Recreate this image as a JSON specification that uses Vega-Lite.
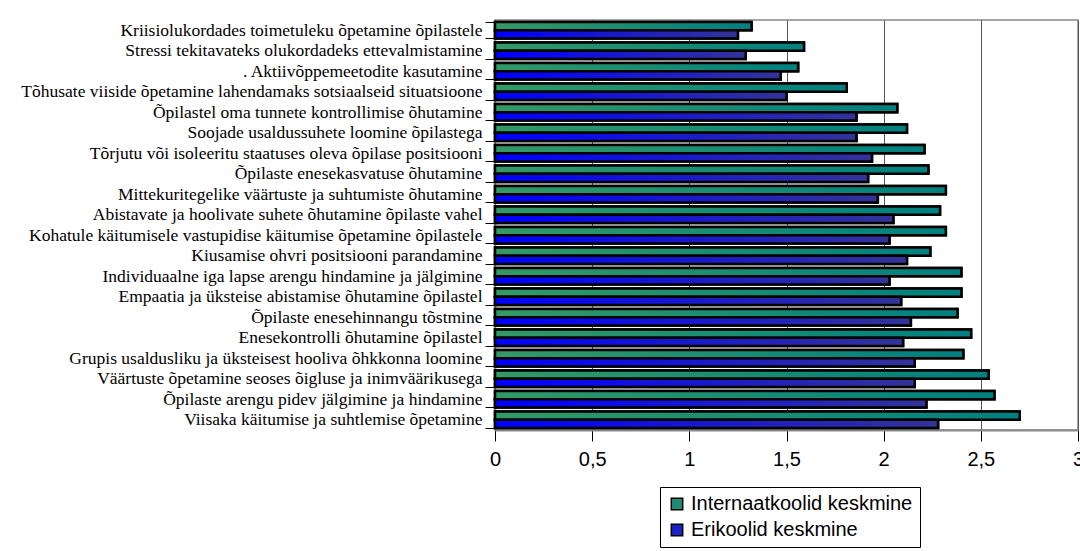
{
  "$schema": "https://vega.github.io/schema/vega-lite/v6.json",
  "width": 583,
  "height": 410,
  "autosize": {"type": "none"},
  "padding": {"left": 495, "top": 20, "right": 2, "bottom": 121},
  "background": "white",
  "config": {
    "view": {"stroke": "#888888", "strokeWidth": 1.5},
    "font": "Liberation Sans"
  },
  "data": {
    "values": [
      {"cat": "Kriisiolukordades toimetuleku õpetamine õpilastele", "series": "Internaatkoolid keskmine", "v": 1.32},
      {"cat": "Kriisiolukordades toimetuleku õpetamine õpilastele", "series": "Erikoolid keskmine", "v": 1.25},
      {"cat": "Stressi tekitavateks olukordadeks ettevalmistamine", "series": "Internaatkoolid keskmine", "v": 1.59},
      {"cat": "Stressi tekitavateks olukordadeks ettevalmistamine", "series": "Erikoolid keskmine", "v": 1.29},
      {"cat": ". Aktiivõppemeetodite kasutamine", "series": "Internaatkoolid keskmine", "v": 1.56},
      {"cat": ". Aktiivõppemeetodite kasutamine", "series": "Erikoolid keskmine", "v": 1.47},
      {"cat": "Tõhusate viiside õpetamine lahendamaks sotsiaalseid situatsioone", "series": "Internaatkoolid keskmine", "v": 1.81},
      {"cat": "Tõhusate viiside õpetamine lahendamaks sotsiaalseid situatsioone", "series": "Erikoolid keskmine", "v": 1.5},
      {"cat": "Õpilastel oma tunnete kontrollimise õhutamine", "series": "Internaatkoolid keskmine", "v": 2.07},
      {"cat": "Õpilastel oma tunnete kontrollimise õhutamine", "series": "Erikoolid keskmine", "v": 1.86},
      {"cat": "Soojade usaldussuhete loomine õpilastega", "series": "Internaatkoolid keskmine", "v": 2.12},
      {"cat": "Soojade usaldussuhete loomine õpilastega", "series": "Erikoolid keskmine", "v": 1.86},
      {"cat": "Tõrjutu või isoleeritu staatuses oleva õpilase positsiooni", "series": "Internaatkoolid keskmine", "v": 2.21},
      {"cat": "Tõrjutu või isoleeritu staatuses oleva õpilase positsiooni", "series": "Erikoolid keskmine", "v": 1.94},
      {"cat": "Õpilaste enesekasvatuse õhutamine", "series": "Internaatkoolid keskmine", "v": 2.23},
      {"cat": "Õpilaste enesekasvatuse õhutamine", "series": "Erikoolid keskmine", "v": 1.92},
      {"cat": "Mittekuritegelike väärtuste ja suhtumiste õhutamine", "series": "Internaatkoolid keskmine", "v": 2.32},
      {"cat": "Mittekuritegelike väärtuste ja suhtumiste õhutamine", "series": "Erikoolid keskmine", "v": 1.97},
      {"cat": "Abistavate ja hoolivate suhete õhutamine õpilaste vahel", "series": "Internaatkoolid keskmine", "v": 2.29},
      {"cat": "Abistavate ja hoolivate suhete õhutamine õpilaste vahel", "series": "Erikoolid keskmine", "v": 2.05},
      {"cat": "Kohatule käitumisele vastupidise käitumise õpetamine õpilastele", "series": "Internaatkoolid keskmine", "v": 2.32},
      {"cat": "Kohatule käitumisele vastupidise käitumise õpetamine õpilastele", "series": "Erikoolid keskmine", "v": 2.03},
      {"cat": "Kiusamise ohvri positsiooni parandamine", "series": "Internaatkoolid keskmine", "v": 2.24},
      {"cat": "Kiusamise ohvri positsiooni parandamine", "series": "Erikoolid keskmine", "v": 2.12},
      {"cat": "Individuaalne iga lapse arengu hindamine ja jälgimine", "series": "Internaatkoolid keskmine", "v": 2.4},
      {"cat": "Individuaalne iga lapse arengu hindamine ja jälgimine", "series": "Erikoolid keskmine", "v": 2.03},
      {"cat": "Empaatia ja üksteise abistamise õhutamine õpilastel", "series": "Internaatkoolid keskmine", "v": 2.4},
      {"cat": "Empaatia ja üksteise abistamise õhutamine õpilastel", "series": "Erikoolid keskmine", "v": 2.09},
      {"cat": "Õpilaste enesehinnangu tõstmine", "series": "Internaatkoolid keskmine", "v": 2.38},
      {"cat": "Õpilaste enesehinnangu tõstmine", "series": "Erikoolid keskmine", "v": 2.14},
      {"cat": "Enesekontrolli õhutamine õpilastel", "series": "Internaatkoolid keskmine", "v": 2.45},
      {"cat": "Enesekontrolli õhutamine õpilastel", "series": "Erikoolid keskmine", "v": 2.1},
      {"cat": "Grupis usaldusliku ja üksteisest hooliva õhkkonna loomine", "series": "Internaatkoolid keskmine", "v": 2.41},
      {"cat": "Grupis usaldusliku ja üksteisest hooliva õhkkonna loomine", "series": "Erikoolid keskmine", "v": 2.16},
      {"cat": "Väärtuste õpetamine seoses õigluse ja inimväärikusega", "series": "Internaatkoolid keskmine", "v": 2.54},
      {"cat": "Väärtuste õpetamine seoses õigluse ja inimväärikusega", "series": "Erikoolid keskmine", "v": 2.16},
      {"cat": "Õpilaste arengu pidev jälgimine ja hindamine", "series": "Internaatkoolid keskmine", "v": 2.57},
      {"cat": "Õpilaste arengu pidev jälgimine ja hindamine", "series": "Erikoolid keskmine", "v": 2.22},
      {"cat": "Viisaka käitumise ja suhtlemise õpetamine", "series": "Internaatkoolid keskmine", "v": 2.7},
      {"cat": "Viisaka käitumise ja suhtlemise õpetamine", "series": "Erikoolid keskmine", "v": 2.28}
    ]
  },
  "encoding": {
    "y": {
      "field": "cat",
      "type": "nominal",
      "sort": null,
      "title": null,
      "scale": {"paddingInner": 0.2, "paddingOuter": 0.1},
      "axis": {
        "labelFont": "Liberation Serif",
        "labelFontSize": 17.5,
        "labelColor": "black",
        "labelLimit": 500,
        "labelPadding": 3,
        "tickBand": "extent",
        "tickSize": 10,
        "tickColor": "black",
        "domainColor": "#888888",
        "domainWidth": 1.5
      }
    },
    "yOffset": {
      "field": "series",
      "type": "nominal",
      "scale": {"domain": ["Internaatkoolid keskmine", "Erikoolid keskmine"], "paddingInner": 0}
    },
    "x": {
      "field": "v",
      "type": "quantitative",
      "title": null,
      "scale": {"domain": [0, 3], "nice": false},
      "axis": {
        "values": [0, 0.5, 1, 1.5, 2, 2.5, 3],
        "labelExpr": "replace(format(datum.value, '~g'), '.', ',')",
        "labelFont": "Liberation Sans",
        "labelFontSize": 20,
        "labelColor": "black",
        "labelPadding": 8,
        "tickSize": 11,
        "tickColor": "black",
        "domainColor": "#888888",
        "domainWidth": 2,
        "grid": true,
        "gridColor": "#555555",
        "gridWidth": 1,
        "labelFlush": false
      }
    }
  },
  "layer": [
    {
      "mark": {"type": "bar", "stroke": "black", "strokeWidth": 2.5},
      "encoding": {
        "color": {
          "field": "series",
          "type": "nominal",
          "scale": {"domain": ["Internaatkoolid keskmine", "Erikoolid keskmine"], "range": ["#1d8a74", "#2020c8"]},
          "legend": {
            "title": null,
            "orient": "none",
            "legendX": 165,
            "legendY": 467,
            "direction": "vertical",
            "symbolType": "square",
            "symbolSize": 130,
            "symbolStrokeColor": "black",
            "symbolStrokeWidth": 1.5,
            "symbolOpacity": 1,
            "labelFont": "Liberation Sans",
            "labelFontSize": 20,
            "labelColor": "black",
            "labelOffset": 4,
            "labelLimit": 400,
            "rowPadding": 6,
            "padding": 7,
            "strokeColor": "black",
            "fillColor": "white"
          }
        }
      }
    },
    {
      "transform": [{"filter": "datum.series === 'Internaatkoolid keskmine'"}],
      "mark": {
        "type": "bar",
        "stroke": "black",
        "strokeWidth": 2.5,
        "color": {"gradient": "linear", "x1": 0, "y1": 0, "x2": 1, "y2": 0, "stops": [{"offset": 0, "color": "#339966"}, {"offset": 1, "color": "#008080"}]}
      }
    },
    {
      "transform": [{"filter": "datum.series === 'Erikoolid keskmine'"}],
      "mark": {
        "type": "bar",
        "stroke": "black",
        "strokeWidth": 2.5,
        "color": {"gradient": "linear", "x1": 0, "y1": 0, "x2": 1, "y2": 0, "stops": [{"offset": 0, "color": "#0000ff"}, {"offset": 1, "color": "#333399"}]}
      }
    }
  ]
}
